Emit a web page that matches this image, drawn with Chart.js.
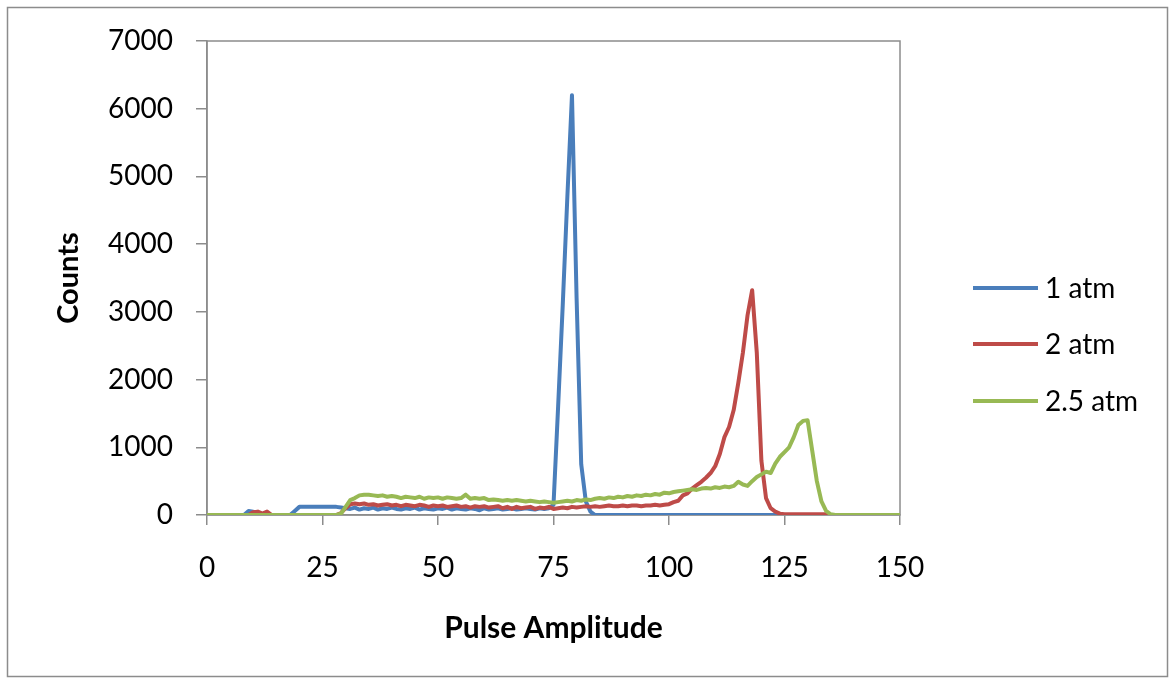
<!DOCTYPE html>
<html>
<head>
<meta charset="utf-8">
<script src="https://cdn.jsdelivr.net/npm/chart.js@4"></script>
<style>
    html, body { margin: 0; padding: 0; background: #fff; }
    #wrap { position: relative; width: 1170px; height: 679px; }
</style>
</head>
<body>
<div id="wrap"><canvas id="pulseChart" width="1170" height="679"></canvas></div>
<script>
// channel numbers (pulse amplitude)
const amplitude = [
    0, 1, 2, 3, 4, 5, 6, 7, 8, 9,
    10, 11, 12, 13, 14, 15, 16, 17, 18, 19,
    20, 21, 22, 23, 24, 25, 26, 27, 28, 29,
    30, 31, 32, 33, 34, 35, 36, 37, 38, 39,
    40, 41, 42, 43, 44, 45, 46, 47, 48, 49,
    50, 51, 52, 53, 54, 55, 56, 57, 58, 59,
    60, 61, 62, 63, 64, 65, 66, 67, 68, 69,
    70, 71, 72, 73, 74, 75, 76, 77, 78, 79,
    80, 81, 82, 83, 84, 85, 86, 87, 88, 89,
    90, 91, 92, 93, 94, 95, 96, 97, 98, 99,
    100, 101, 102, 103, 104, 105, 106, 107, 108, 109,
    110, 111, 112, 113, 114, 115, 116, 117, 118, 119,
    120, 121, 122, 123, 124, 125, 126, 127, 128, 129,
    130, 131, 132, 133, 134, 135, 136, 137, 138, 139,
    140, 141, 142, 143, 144, 145, 146, 147, 148, 149,
    150,
];

const counts1atm = [
    0, 0, 0, 0, 0, 0, 0, 0, 0, 60,
    50, 0, 0, 0, 0, 0, 0, 0, 0, 60,
    120, 120, 120, 120, 120, 120, 120, 120, 120, 110,
    100, 90, 110, 80, 100, 90, 110, 80, 100, 90,
    110, 90, 80, 100, 90, 110, 80, 100, 90, 80,
    100, 90, 110, 80, 100, 90, 80, 100, 90, 70,
    100, 80, 90, 100, 80, 90, 100, 80, 90, 100,
    90, 80, 100, 90, 100, 150, 1600, 3100, 4700, 6200,
    3200, 750, 200, 50, 0, 0, 0, 0, 0, 0,
    0, 0, 0, 0, 0, 0, 0, 0, 0, 0,
    0, 0, 0, 0, 0, 0, 0, 0, 0, 0,
    0, 0, 0, 0, 0, 0, 0, 0, 0, 0,
    0, 0, 0, 0, 0, 0, 0, 0, 0, 0,
    0, 0, 0, 0, 0, 0, 0, 0, 0, 0,
    0, 0, 0, 0, 0, 0, 0, 0, 0, 0,
    0,
];

const counts2atm = [
    0, 0, 0, 0, 0, 0, 0, 0, 0, 0,
    40, 50, 20, 50, 0, 0, 0, 0, 0, 0,
    0, 0, 0, 0, 0, 0, 0, 0, 0, 30,
    100, 160, 170, 160, 170, 150, 160, 140, 150, 160,
    140, 150, 130, 150, 140, 130, 150, 140, 120, 140,
    130, 140, 120, 130, 140, 120, 130, 110, 130, 120,
    130, 110, 120, 130, 100, 120, 90, 120, 100, 110,
    120, 90, 110, 100, 120, 90, 100, 110, 100, 120,
    110, 120, 130, 120, 130, 120, 130, 140, 130, 130,
    140, 130, 140, 140, 130, 140, 140, 150, 140, 150,
    160, 190, 210, 290, 320, 390, 440, 490, 550, 620,
    720, 900, 1150, 1300, 1550, 1950, 2400, 2950, 3320, 2400,
    800, 250, 100, 50, 20, 10, 10, 10, 10, 10,
    10, 10, 10, 10, 10, 0, 0, 0, 0, 0,
    0, 0, 0, 0, 0, 0, 0, 0, 0, 0,
    0,
];

const counts25atm = [
    0, 0, 0, 0, 0, 0, 0, 0, 0, 0,
    0, 0, 0, 0, 0, 0, 0, 0, 0, 0,
    0, 0, 0, 0, 0, 0, 0, 0, 0, 20,
    120, 220, 250, 290, 300, 300, 290, 280, 290, 270,
    280, 270, 250, 270, 260, 250, 270, 240, 260, 250,
    260, 240, 260, 250, 240, 250, 300, 240, 250, 240,
    250, 220, 230, 220, 210, 220, 210, 220, 210, 200,
    210, 200, 190, 200, 190, 180, 190, 200, 210, 200,
    220, 210, 230, 220, 240, 250, 240, 260, 250, 270,
    260, 280, 270, 290, 280, 300, 290, 310, 300, 330,
    320, 340, 350, 360, 370, 380, 370, 390, 400, 390,
    410, 400, 420, 410, 430, 490, 450, 430, 500, 560,
    600, 640, 620, 760, 860, 930, 1000, 1150, 1330, 1390,
    1400, 950, 500, 200, 60, 10, 0, 0, 0, 0,
    0, 0, 0, 0, 0, 0, 0, 0, 0, 0,
    0,
];

const seriesLabels = ['1 atm', '2 atm', '2.5 atm'];
const seriesColours = ['#4a7ebb', '#be4b48', '#98b954'];
const xTicks = [0, 25, 50, 75, 100, 125, 150];
const yTicks = [0, 1000, 2000, 3000, 4000, 5000, 6000, 7000];

const axisGrey = '#8c8c8c';
const fontFamily = 'Lato, "Open Sans", sans-serif';

function toPoints(values) {
    return values.map((v, i) => ({ x: amplitude[i], y: v }));
}

// outer frame + plot area box
const framePlugin = {
    id: 'frame',
    beforeDraw(chart) {
        const ctx = chart.ctx;
        const a = chart.chartArea;
        ctx.save();
        ctx.fillStyle = '#fff';
        ctx.fillRect(0, 0, chart.width, chart.height);
        ctx.strokeStyle = axisGrey;
        ctx.lineWidth = 1.5;
        ctx.strokeRect(7.5, 7.5, 1160, 669);
        ctx.strokeRect(a.left, a.top, a.right - a.left, a.bottom - a.top);
        ctx.restore();
    },
};

// legend on the right, Excel style
const sideLegend = {
    id: 'sideLegend',
    afterDraw(chart) {
        const ctx = chart.ctx;
        const rows = [288, 344, 401];
        ctx.save();
        ctx.font = `28px ${fontFamily}`;
        ctx.textBaseline = 'middle';
        ctx.fillStyle = '#000';
        chart.data.datasets.forEach((ds, i) => {
            const y = rows[i];
            ctx.strokeStyle = ds.borderColor;
            ctx.lineWidth = 4;
            ctx.beginPath();
            ctx.moveTo(973, y);
            ctx.lineTo(1038, y);
            ctx.stroke();
            ctx.fillText(ds.label, 1045, y + 1);
        });
        ctx.restore();
    },
};

const ctx = document.querySelector('#pulseChart').getContext('2d');
new Chart(ctx, {
    type: 'line',
    data: {
        datasets: [
            { label: seriesLabels[0], data: toPoints(counts1atm), borderColor: seriesColours[0], order: 3 },
            { label: seriesLabels[1], data: toPoints(counts2atm), borderColor: seriesColours[1], order: 2 },
            { label: seriesLabels[2], data: toPoints(counts25atm), borderColor: seriesColours[2], order: 1 },
        ],
    },
    options: {
        responsive: false,
        animation: false,
        events: [],
        elements: {
            point: { radius: 0 },
            line: { borderWidth: 4, tension: 0, borderJoinStyle: 'round', borderCapStyle: 'round' },
        },
        layout: {
            padding: { left: 10, right: 270, top: 41, bottom: 10 },
        },
        plugins: {
            legend: { display: false },
            tooltip: { enabled: false },
        },
        scales: {
            x: {
                type: 'linear',
                min: 0,
                max: 150,
                afterBuildTicks: (scale) => { scale.ticks = xTicks.map((v) => ({ value: v })); },
                afterFit: (scale) => { scale.height = 679 - 515 - 10; },
                grid: { drawOnChartArea: false, drawTicks: true, tickLength: 10, color: axisGrey, lineWidth: 1.5 },
                border: { display: true, color: axisGrey, width: 1.5 },
                ticks: {
                    color: '#000',
                    padding: 26,
                    maxRotation: 0,
                    font: { family: fontFamily, size: 28 },
                    callback: (value) => String(value),
                },
                title: {
                    display: true,
                    text: 'Pulse Amplitude',
                    color: '#000',
                    padding: { top: 0, bottom: 23 },
                    font: { family: fontFamily, size: 30, weight: 'bold' },
                },
            },
            y: {
                min: 0,
                max: 7000,
                afterBuildTicks: (scale) => { scale.ticks = yTicks.map((v) => ({ value: v })); },
                afterFit: (scale) => { scale.width = 207 - 10; },
                grid: { drawOnChartArea: false, drawTicks: true, tickLength: 11, color: axisGrey, lineWidth: 1.5 },
                border: { display: true, color: axisGrey, width: 1.5 },
                ticks: {
                    color: '#000',
                    padding: 23,
                    font: { family: fontFamily, size: 28 },
                    callback: (value) => String(value),
                },
                title: {
                    display: true,
                    text: 'Counts',
                    color: '#000',
                    padding: { top: 41, bottom: 0 },
                    font: { family: fontFamily, size: 29, weight: 'bold' },
                },
            },
        },
    },
    plugins: [framePlugin, sideLegend],
});
</script>
</body>
</html>
